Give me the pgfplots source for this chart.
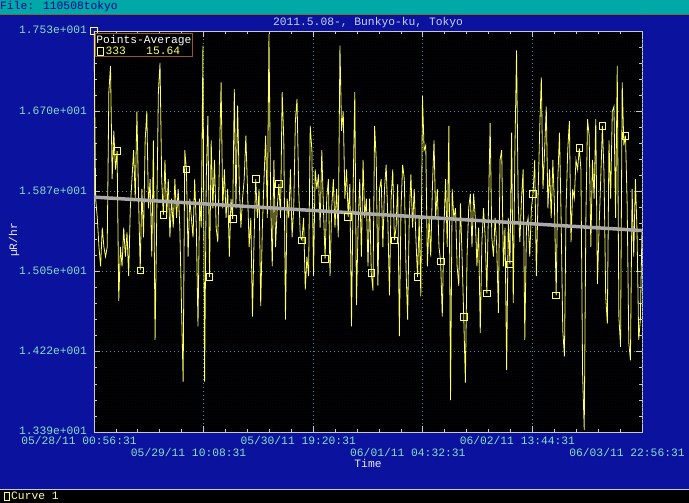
\documentclass[border=0pt]{standalone}
\usepackage{pgfplots}
\pgfplotsset{compat=1.18}
\usepackage{pgfplotstable}
\usepackage{fontspec}
\setmainfont{Liberation Mono}
\usetikzlibrary{patterns}
\definecolor{bgblue}{RGB}{10,18,158}
\definecolor{barcyan}{RGB}{0,168,168}
\definecolor{barline}{RGB}{120,110,40}
\definecolor{ticklab}{RGB}{140,224,200}
\definecolor{titlecol}{RGB}{200,210,240}
\definecolor{labcol}{RGB}{232,232,240}
\definecolor{dataylw}{RGB}{255,255,96}
\definecolor{fitgray}{RGB}{170,170,170}
\definecolor{legbrown}{RGB}{150,90,40}
\definecolor{gridteal}{RGB}{60,150,150}
\definecolor{framecol}{RGB}{200,200,212}
\definecolor{dotblue}{RGB}{16,22,60}
\definecolor{filetext}{RGB}{0,0,150}

\pgfplotstableread[row sep=\\]{
y\\
17.53\\ 15.8\\ 15.6\\ 15.3\\ 15.1\\ 15.5\\ 15.3\\ 15.2\\ 15.3\\ 16.9\\ 17.17\\ 16.0\\ 16.5\\ 16.1\\
16.29\\ 14.74\\ 15.3\\ 15.1\\ 15.5\\ 15.2\\ 15.45\\ 15.0\\ 15.7\\ 16.0\\ 16.3\\ 15.8\\ 16.7\\ 15.8\\
15.06\\ 15.9\\ 15.4\\ 16.4\\ 16.7\\ 15.7\\ 16.0\\ 15.2\\ 16.4\\ 14.34\\ 15.6\\ 16.9\\ 17.2\\ 16.0\\
15.63\\ 16.2\\ 15.6\\ 16.0\\ 15.4\\ 15.8\\ 15.5\\ 16.0\\ 15.6\\ 15.9\\ 15.5\\ 14.7\\ 13.91\\ 16.3\\
16.10\\ 15.2\\ 15.8\\ 15.6\\ 15.4\\ 16.0\\ 15.5\\ 14.48\\ 15.8\\ 15.5\\ 17.38\\ 13.91\\ 16.0\\ 16.65\\
14.99\\ 16.4\\ 15.7\\ 16.2\\ 15.5\\ 15.35\\ 16.2\\ 17.0\\ 15.7\\ 16.1\\ 15.6\\ 15.9\\ 15.2\\ 15.8\\
15.59\\ 16.93\\ 15.7\\ 16.76\\ 15.95\\ 15.5\\ 15.8\\ 16.0\\ 16.45\\ 15.9\\ 15.3\\ 15.6\\ 14.58\\ 15.4\\
16.0\\ 15.6\\ 15.9\\ 14.69\\ 15.5\\ 16.0\\ 16.45\\ 15.6\\ 17.5\\ 15.8\\ 15.1\\ 16.2\\ 15.3\\ 15.7\\
15.95\\ 15.6\\ 16.9\\ 16.4\\ 14.55\\ 15.8\\ 15.6\\ 16.1\\ 15.4\\ 15.7\\ 16.6\\ 16.83\\ 15.9\\ 15.4\\
15.37\\ 15.6\\ 14.86\\ 15.2\\ 15.0\\ 16.55\\ 16.3\\ 15.0\\ 16.1\\ 15.9\\ 16.05\\ 15.5\\ 16.3\\ 15.7\\
15.18\\ 15.8\\ 16.0\\ 15.0\\ 15.7\\ 16.0\\ 15.5\\ 15.9\\ 15.4\\ 17.38\\ 16.5\\ 16.7\\ 15.8\\ 16.1\\
15.61\\ 15.95\\ 14.48\\ 15.9\\ 16.9\\ 14.7\\ 15.5\\ 16.0\\ 15.2\\ 16.2\\ 15.6\\ 15.8\\ 15.1\\ 15.8\\
15.03\\ 14.85\\ 16.55\\ 16.2\\ 14.9\\ 15.9\\ 16.0\\ 15.3\\ 15.9\\ 16.15\\ 15.6\\ 14.8\\ 15.8\\ 16.1\\
15.37\\ 15.5\\ 15.95\\ 14.38\\ 15.7\\ 16.15\\ 16.0\\ 15.1\\ 14.55\\ 15.6\\ 16.05\\ 15.5\\ 15.9\\ 15.4\\
14.99\\ 15.6\\ 14.79\\ 16.86\\ 16.3\\ 16.35\\ 15.1\\ 15.6\\ 15.2\\ 15.9\\ 16.4\\ 15.6\\ 15.9\\ 15.3\\
15.15\\ 14.58\\ 15.5\\ 16.0\\ 15.3\\ 16.55\\ 13.72\\ 15.9\\ 15.6\\ 15.7\\ 15.1\\ 14.9\\ 15.75\\ 15.2\\
14.58\\ 13.9\\ 15.2\\ 15.7\\ 15.85\\ 15.3\\ 15.85\\ 15.6\\ 15.1\\ 15.5\\ 14.41\\ 15.35\\ 15.7\\ 15.4\\
14.82\\ 15.7\\ 16.58\\ 15.4\\ 15.2\\ 15.6\\ 15.3\\ 14.62\\ 16.2\\ 16.3\\ 15.1\\ 15.5\\ 14.03\\ 15.6\\
15.12\\ 16.48\\ 14.72\\ 16.3\\ 17.33\\ 15.75\\ 15.35\\ 15.8\\ 16.1\\ 14.34\\ 15.5\\ 15.6\\ 15.2\\ 15.7\\
15.85\\ 16.2\\ 15.0\\ 15.8\\ 16.5\\ 17.05\\ 15.9\\ 16.3\\ 16.75\\ 15.7\\ 16.1\\ 15.6\\ 16.2\\ 15.7\\
14.8\\ 16.0\\ 16.48\\ 15.6\\ 14.44\\ 14.17\\ 15.7\\ 16.3\\ 16.6\\ 15.35\\ 15.9\\ 15.8\\ 16.2\\ 16.1\\
16.32\\ 16.1\\ 14.0\\ 13.41\\ 15.6\\ 16.62\\ 16.45\\ 15.3\\ 16.2\\ 15.8\\ 16.62\\ 14.92\\ 15.5\\ 16.0\\
16.55\\ 16.05\\ 14.79\\ 14.51\\ 16.4\\ 15.8\\ 16.7\\ 16.75\\ 15.6\\ 17.17\\ 14.58\\ 14.27\\ 17.0\\ 16.35\\
16.45\\ 15.75\\ 14.31\\ 14.13\\ 15.9\\ 15.2\\ 16.0\\ 15.45\\ 14.34\\ 14.55\\ 15.48\\
}\datatable

\begin{document}
\begin{tikzpicture}[x=1pt,y=1pt]
\useasboundingbox (0,0) rectangle (689,503);
% canvas
\fill[bgblue] (0,0) rectangle (689,503);
% top bar
\fill[barcyan] (0,489) rectangle (689,503);
\draw[barline, line width=1.2pt] (0,488.6) -- (689,488.6);
\node[anchor=west, inner sep=0pt, text=filetext, font=\fontsize{11.3}{13}\selectfont] at (0,496) {File: 110508tokyo};
% bottom bar
\fill[black] (0,0) rectangle (689,13.5);
\draw[framecol, line width=0.8pt] (0,13.5) -- (689,13.5);
\draw[dataylw, line width=0.8pt] (4,3) rectangle (9.5,11);
\node[anchor=west, inner sep=0pt, text=dataylw!60!white, font=\fontsize{11.3}{13}\selectfont] at (11,7) {Curve 1};

\begin{axis}[
  at={(94pt,71pt)}, anchor=south west,
  width=548pt, height=401pt, scale only axis,
  xmin=0, xmax=332, ymin=13.39, ymax=17.53,
  enlargelimits=false,
  axis background/.style={fill=black, postaction={pattern=dots, pattern color=dotblue}},
  axis line style={draw=framecol, line width=0.8pt},
  tick style={draw=framecol, line width=0.7pt},
  major tick length=6pt, minor tick length=3pt,
  tick align=inside, xtick pos=both, ytick pos=both,
  xticklabel pos=bottom, yticklabel pos=left,
  xtick={0,132.8,265.6},
  xticklabels={{05/28/11 00:56:31},{05/30/11 19:20:31},{06/02/11 13:44:31}},
  extra x ticks={66.4,199.2,332},
  extra x tick labels={{05/29/11 10:08:31},{06/01/11 04:32:31},{06/03/11 22:56:31}},
  extra x tick style={grid=major, xticklabel style={yshift=-12pt}},
  minor xtick={13.28,26.56,39.84,53.12,79.68,92.96,106.24,119.52,146.08,159.36,172.64,185.92,212.48,225.76,239.04,252.32,278.88,292.16,305.44,318.72},
  ytick={13.39,14.218,15.046,15.874,16.702,17.53},
  yticklabels={1.339e+001,1.422e+001,1.505e+001,1.587e+001,1.670e+001,1.753e+001},
  minor ytick={13.5556,13.7212,13.8868,14.0524,14.3836,14.5492,14.7148,14.8804,15.2116,15.3772,15.5428,15.7084,16.0396,16.2052,16.3708,16.5364,16.8676,17.0332,17.1988,17.3644},
  grid=major,
  major grid style={draw=gridteal, line width=0.7pt, dash pattern=on 0.8pt off 3.2pt},
  /pgf/number format/assume math mode=true,
  ticklabel style={font=\fontsize{11.3}{13}\selectfont, text=ticklab, inner sep=0.8pt},
  xticklabel style={xshift=-15pt, yshift=-3.5pt},
  yticklabel style={xshift=-6pt, yshift=0.8pt},
  clip=true,
]
\addplot[dataylw, line width=0.8pt, mark=square, mark repeat=14, mark phase=1,
  mark size=3.3pt, mark options={solid, line width=0.8pt, fill=none}]
  table[x expr=\coordindex, y=y] {\datatable};
\addplot[fitgray, line width=3.5pt] coordinates {(0,15.815) (332,15.47)};
\end{axis}

% legend box
\node[anchor=north west, draw=legbrown, line width=0.9pt, fill=black, inner xsep=1.5pt, inner ysep=1pt,
  align=left, font=\fontsize{11.3}{12}\selectfont] at (94.5,469.5)
  {\textcolor{white}{Points-Average}\\[-0.5pt]
   \textcolor{dataylw}{\hspace{1pt}{\setlength{\fboxsep}{0pt}\setlength{\fboxrule}{0.8pt}\fbox{\rule{0pt}{7pt}\hspace{4.5pt}}}\hspace{2pt}333\ \ \ 15.64}};

% title and axis labels
\node[text=titlecol, font=\fontsize{11.3}{13}\selectfont] at (368,480) {2011.5.08-, Bunkyo-ku, Tokyo};
\node[text=labcol, font=\fontsize{11.3}{13}\selectfont] at (368,40) {Time};
\node[text=labcol, rotate=90, font=\fontsize{11.3}{13}\selectfont] at (14,263) {µR/hr};
\end{tikzpicture}
\end{document}
